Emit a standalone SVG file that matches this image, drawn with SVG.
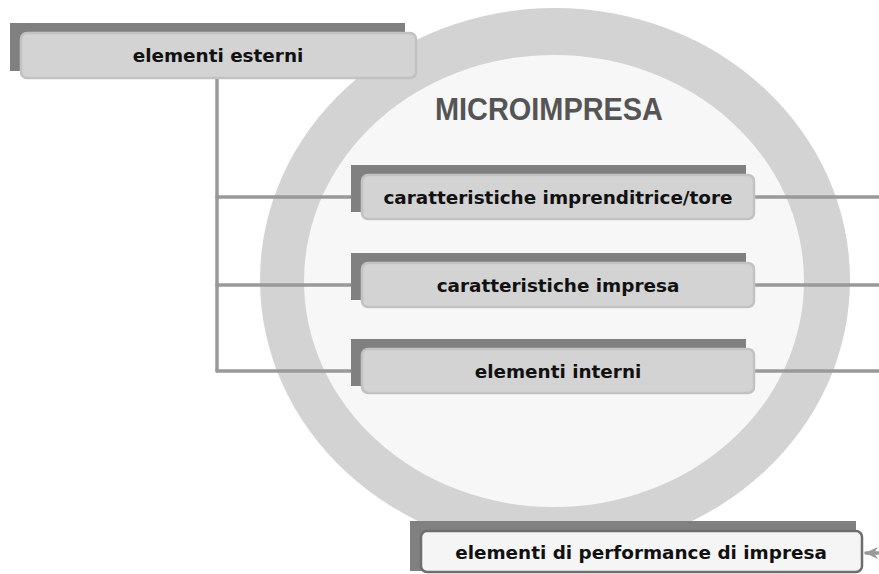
<svg xmlns="http://www.w3.org/2000/svg" width="879" height="574" viewBox="0 0 879 574">
  <defs>
    <style>
      .shadow { fill: #808080; }
      .box { fill: #d3d3d3; stroke: #c2c2c2; stroke-width: 2.5; }
      .box-out { fill: #f5f5f5; stroke: #6e6e6e; stroke-width: 2.5; }
      .label { font-family: "DejaVu Sans", Verdana, sans-serif; font-weight: bold; font-size: 18.4px; fill: #111; text-anchor: middle; }
      .title { font-family: "Liberation Sans", Arial, sans-serif; font-weight: bold; font-size: 31px; fill: #555; text-anchor: middle; }
      .link { stroke: #999; stroke-width: 3.5; fill: none; stroke-linecap: round; }
    </style>
    <marker id="arrow" markerWidth="14" markerHeight="14" refX="12" refY="6" orient="auto" markerUnits="userSpaceOnUse">
      <path d="M0,0 L13,6 L0,12 L4,6 Z" fill="#999"/>
    </marker>
  </defs>

  <rect width="879" height="574" fill="#ffffff"/>

  <!-- enterprise ring -->
  <g id="microimpresa">
    <ellipse cx="555" cy="280" rx="295" ry="272" fill="#d3d3d3"/>
    <ellipse cx="554" cy="281" rx="250" ry="226" fill="#f7f7f7"/>
    <text class="title" x="549" y="120" textLength="228" lengthAdjust="spacingAndGlyphs">MICROIMPRESA</text>
  </g>

  <!-- connectors -->
  <g id="connectors">
    <path class="link" d="M217,78 V371"/>
    <path class="link" d="M217,197 H364"/>
    <path class="link" d="M217,285 H364"/>
    <path class="link" d="M217,371 H364"/>
    <path class="link" d="M754,197 H879"/>
    <path class="link" d="M754,285 H879"/>
    <path class="link" d="M754,371 H879"/>
    <path class="link" d="M882,553 H866" marker-end="url(#arrow)"/>
  </g>

  <g id="elementi-esterni">
    <rect class="shadow" x="10" y="23" width="395" height="48"/>
    <rect class="box" x="21" y="33" width="395" height="45" rx="6"/>
    <text class="label" x="218" y="62">elementi esterni</text>
  </g>

  <g id="caratteristiche-imprenditrice">
    <rect class="shadow" x="351" y="165" width="395" height="47"/>
    <rect class="box" x="362" y="175" width="392" height="44" rx="6"/>
    <text class="label" x="558" y="204">caratteristiche imprenditrice/tore</text>
  </g>

  <g id="caratteristiche-impresa">
    <rect class="shadow" x="351" y="253" width="395" height="47"/>
    <rect class="box" x="362" y="263" width="392" height="44" rx="6"/>
    <text class="label" x="558" y="292">caratteristiche impresa</text>
  </g>

  <g id="elementi-interni">
    <rect class="shadow" x="351" y="339" width="395" height="47"/>
    <rect class="box" x="362" y="349" width="392" height="44" rx="6"/>
    <text class="label" x="558" y="378">elementi interni</text>
  </g>

  <g id="elementi-performance">
    <rect class="shadow" x="410" y="521" width="446" height="50"/>
    <rect class="box-out" x="421" y="531" width="441" height="41" rx="6"/>
    <text class="label" x="641" y="559">elementi di performance di impresa</text>
  </g>
</svg>
